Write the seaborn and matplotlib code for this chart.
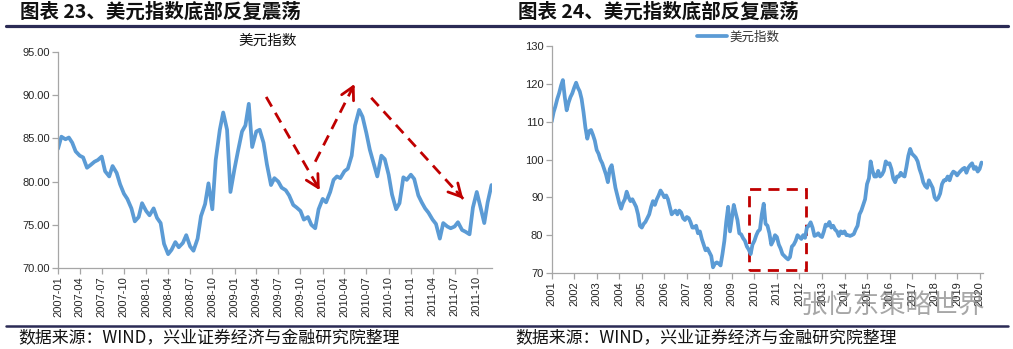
import numpy as np
import pandas as pd
import matplotlib
matplotlib.use("Agg")
import matplotlib.pyplot as plt
import matplotlib.dates as mdates
from matplotlib.lines import Line2D
from matplotlib.patches import Rectangle
import seaborn as sns

# ---------------- data ----------------
# Left panel: US dollar index, semi-monthly readings 2007-01 .. 2011-12
left_start = "2007-01-01"
left_values = [
    83.8, 85.2, 84.9, 85.1, 84.5, 83.5, 83.0, 82.8, 81.6, 81.9,
    82.3, 82.5, 82.9, 81.2, 80.6, 81.8, 81.0, 79.7, 78.6, 78.0,
    76.9, 75.4, 75.9, 77.5, 76.6, 76.1, 76.9, 75.8, 75.2, 72.8,
    71.6, 72.1, 73.0, 72.4, 72.9, 73.8, 72.5, 72.0, 73.4, 76.0,
    77.4, 79.8, 76.8, 82.5, 86.0, 88.0, 86.0, 78.8, 81.5, 83.5,
    85.8, 86.5, 89.0, 84.0, 85.8, 86.0, 84.5, 82.0, 79.6, 80.4,
    80.0, 79.3, 79.0, 78.4, 77.3, 77.0, 76.6, 75.6, 75.9, 75.0,
    74.6, 76.8, 78.0, 77.6, 78.8, 80.2, 80.6, 80.4, 81.2, 81.5,
    83.0, 86.5, 88.3, 87.5, 85.6, 83.7, 82.0, 80.6, 83.0, 82.6,
    80.8, 78.5, 76.8, 77.5, 80.5, 80.2, 80.8, 80.3, 78.4, 77.6,
    76.9, 76.4, 75.6, 75.1, 73.4, 75.2, 74.8, 74.6, 74.8, 75.3,
    74.4, 74.2, 73.9, 77.0, 78.8, 77.2, 75.2, 77.6, 79.6,
]
left_ticks_label = "%Y-%m"

# Right panel: US dollar index, monthly readings 2001-01 .. 2020-02
right_start = "2001-01-01"
right_values = [
    110.0, 112.5, 114.0, 116.0, 117.5, 119.5, 121.0, 116.5, 113.0, 115.0, 116.5, 117.5,  # 2001
    119.0, 120.3, 119.0, 118.0, 116.0, 112.5, 108.5, 105.5, 107.5, 107.8, 106.5, 105.0,  # 2002
    102.5, 101.5, 100.0, 99.0, 97.5, 96.0, 94.0, 97.5, 98.5, 95.5, 92.5, 90.5,            # 2003
    88.5, 87.0, 88.5, 89.5, 91.5, 90.0, 89.0, 89.5, 88.5, 87.5, 85.5, 82.5,               # 2004
    82.0, 83.0, 83.5, 84.5, 85.5, 87.5, 89.0, 88.0, 89.5, 90.5, 91.8, 91.0,               # 2005
    90.0, 90.5, 89.5, 87.5, 85.5, 86.0, 86.5, 85.5, 86.5, 86.0, 84.5, 84.0,               # 2006
    84.8, 84.5, 83.5, 82.0, 82.0, 82.5, 80.5, 81.0, 79.0, 77.5, 76.0, 76.5,               # 2007
    75.5, 74.5, 71.5, 72.5, 72.8, 72.5, 72.0, 75.0, 78.5, 83.5, 87.5, 81.0,               # 2008
    84.5, 88.0, 86.0, 84.0, 80.5, 80.2, 79.2, 78.5, 77.0, 76.2, 75.0, 77.5,               # 2009
    78.5, 80.0, 81.0, 81.5, 85.5, 88.3, 83.0, 82.5, 80.5, 77.5, 78.5, 80.0,               # 2010
    79.5, 77.5, 76.5, 75.0, 74.5, 74.0, 73.6, 74.2, 77.0, 77.5, 78.5, 80.0,               # 2011
    79.5, 79.0, 80.0, 79.3, 82.0, 82.5, 83.4, 82.0, 79.8, 80.0, 80.5, 79.8,               # 2012
    79.5, 81.0, 82.8, 82.5, 83.5, 82.0, 82.5, 81.5, 81.0, 79.8, 81.0, 80.5,               # 2013
    81.0, 80.0, 80.0, 79.8, 80.0, 80.3, 81.5, 82.5, 85.5, 86.5, 88.0, 89.5,               # 2014
    93.5, 95.0, 99.5, 97.0, 95.5, 95.5, 97.0, 95.5, 96.0, 97.0, 99.5, 98.8,               # 2015
    99.0, 97.5, 95.0, 94.0, 95.5, 95.5, 96.5, 95.8, 95.5, 98.0, 101.0, 102.8,             # 2016
    101.5, 101.0, 100.5, 99.5, 97.5, 96.0, 94.0, 93.0, 92.5, 94.5, 93.5, 92.5,            # 2017
    90.0, 89.3, 89.8, 91.0, 93.5, 94.5, 94.5, 95.5, 94.5, 96.0, 96.8, 96.5,               # 2018
    95.8, 96.5, 97.0, 97.5, 97.8, 96.5, 97.8, 98.5, 99.0, 97.5, 98.0, 96.8,               # 2019
    97.5, 99.2,                                                                           # 2020
]

# annotation helpers (trend arrows on left panel, box on right panel)
arrow_starts = [("2009-05-12", 89.8), ("2009-12-01", 82.3), ("2010-07-21", 89.7)]
arrow_ends = [("2009-12-20", 79.0), ("2010-05-13", 91.3), ("2011-08-06", 78.0)]
box_x = ("2009-10-05", "2012-04-15")
box_y = (70.9, 92.3)

title_left = "图表 23、美元指数底部反复震荡"
title_right = "图表 24、美元指数底部反复震荡"
series_name = "美元指数"
source_text = "数据来源：WIND，兴业证券经济与金融研究院整理"
watermark = "张忆东策略世界"

# ---------------- style ----------------
W, H = 1013, 349
BLUE = "#5B9BD5"
RED = "#C00000"
NAVY = "#2B2B55"
SPINE = "#A6A6A6"
TXT = "#262626"
CJK = ["Noto Sans CJK SC", "DejaVu Sans"]

sns.set_theme(style="ticks")
plt.rcParams["font.family"] = ["Liberation Sans", "Noto Sans CJK SC", "DejaVu Sans"]

fig = plt.figure(figsize=(W / 100, H / 100), dpi=100)
fig.patch.set_facecolor("white")

left_df = pd.DataFrame({
    "date": pd.date_range(left_start, periods=len(left_values), freq="SMS"),
    "value": left_values,
})
right_df = pd.DataFrame({
    "date": pd.date_range(right_start, periods=len(right_values), freq="MS"),
    "value": right_values,
})


def style_axes(ax):
    for s in ["top", "right"]:
        ax.spines[s].set_visible(False)
    for s in ["left", "bottom"]:
        ax.spines[s].set_color(SPINE)
        ax.spines[s].set_linewidth(0.9)
    ax.tick_params(axis="both", which="major", length=4, width=0.9,
                   color=SPINE, labelsize=8, labelcolor=TXT, direction="out",
                   bottom=True, left=True, pad=2)
    ax.set_xlabel("")
    ax.set_ylabel("")
    ax.grid(False)


# ---------------- left panel ----------------
axL = fig.add_axes([58 / W, 1 - 268 / H, 434 / W, 216 / H])
sns.lineplot(data=left_df, x="date", y="value", ax=axL, color=BLUE,
             linewidth=2.7, legend=False)
axL.set_ylim(70, 95)
axL.set_yticks(np.arange(70, 96, 5))
axL.yaxis.set_major_formatter(matplotlib.ticker.FormatStrFormatter("%.2f"))
axL.set_xlim(pd.Timestamp("2007-01-01"), pd.Timestamp("2011-12-03"))
axL.xaxis.set_major_locator(mdates.MonthLocator(bymonth=[1, 4, 7, 10]))
axL.xaxis.set_major_formatter(mdates.DateFormatter(left_ticks_label))
style_axes(axL)
for lab in axL.get_xticklabels():
    lab.set_rotation(90)
axL.text(0.484, 1.05, series_name, transform=axL.transAxes, ha="center",
         va="center", fontsize=10.5, family=CJK, color="#111111")

for (s_d, s_v), (e_d, e_v) in zip(arrow_starts, arrow_ends):
    sx, ex = mdates.date2num(pd.Timestamp(s_d)), mdates.date2num(pd.Timestamp(e_d))
    axL.plot([sx, ex], [s_v, e_v], color=RED, lw=2.0, dashes=(4, 2.6),
             solid_capstyle="butt")
    hx = sx + (ex - sx) * 0.93
    hv = s_v + (e_v - s_v) * 0.93
    axL.annotate("", xy=(ex, e_v), xytext=(hx, hv),
                 arrowprops=dict(arrowstyle="->,head_length=0.6,head_width=0.32",
                                 color=RED, lw=2.0, shrinkA=0, shrinkB=0,
                                 mutation_scale=15))

# ---------------- right panel ----------------
axR = fig.add_axes([551.7 / W, 1 - 273 / H, 431 / W, 227 / H])
sns.lineplot(data=right_df, x="date", y="value", ax=axR, color=BLUE,
             linewidth=2.7, label=series_name)
axR.set_ylim(70, 130)
axR.set_yticks(np.arange(70, 131, 10))
axR.set_xlim(pd.Timestamp("2001-01-01"), pd.Timestamp("2020-02-20"))
axR.xaxis.set_major_locator(mdates.YearLocator())
axR.xaxis.set_major_formatter(mdates.DateFormatter("%Y"))
style_axes(axR)
for lab in axR.get_xticklabels():
    lab.set_rotation(90)
leg = axR.legend(loc="center", bbox_to_anchor=(0.432, 1.04), frameon=False,
                 handlelength=2.4, handletextpad=0.2, borderaxespad=0,
                 prop={"family": CJK, "size": 9})
for t in leg.get_texts():
    t.set_color("#333333")

bx0 = mdates.date2num(pd.Timestamp(box_x[0]))
bx1 = mdates.date2num(pd.Timestamp(box_x[1]))
axR.add_patch(Rectangle((bx0, box_y[0]), bx1 - bx0, box_y[1] - box_y[0],
                        fill=False, edgecolor=RED, lw=2.0, linestyle=(0, (4, 2.6))))

# ---------------- frame texts ----------------
fig.add_artist(Line2D([6 / W, 1008 / W], [1 - 26 / H, 1 - 26 / H],
                      transform=fig.transFigure, color=NAVY, lw=2.3))
fig.add_artist(Line2D([6 / W, 1008 / W], [1 - 326 / H, 1 - 326 / H],
                      transform=fig.transFigure, color=NAVY, lw=1.8))

fig.text(20 / W, 1 - 12 / H, title_left, fontsize=14, fontweight="bold",
         family=CJK, ha="left", va="center", color="#111111")
fig.text(518 / W, 1 - 12 / H, title_right, fontsize=14, fontweight="bold",
         family=CJK, ha="left", va="center", color="#111111")
fig.text(18 / W, 1 - 338 / H, source_text, fontsize=12.2, family=CJK,
         ha="left", va="center", color="#111111")
fig.text(515 / W, 1 - 338 / H, source_text, fontsize=12.2, family=CJK,
         ha="left", va="center", color="#111111")
fig.text(893 / W, 1 - 305 / H, watermark, fontsize=19, family=CJK,
         ha="center", va="center", color="#8a8a8a", alpha=0.75)

fig.savefig("out.png", dpi=100, facecolor="white")
